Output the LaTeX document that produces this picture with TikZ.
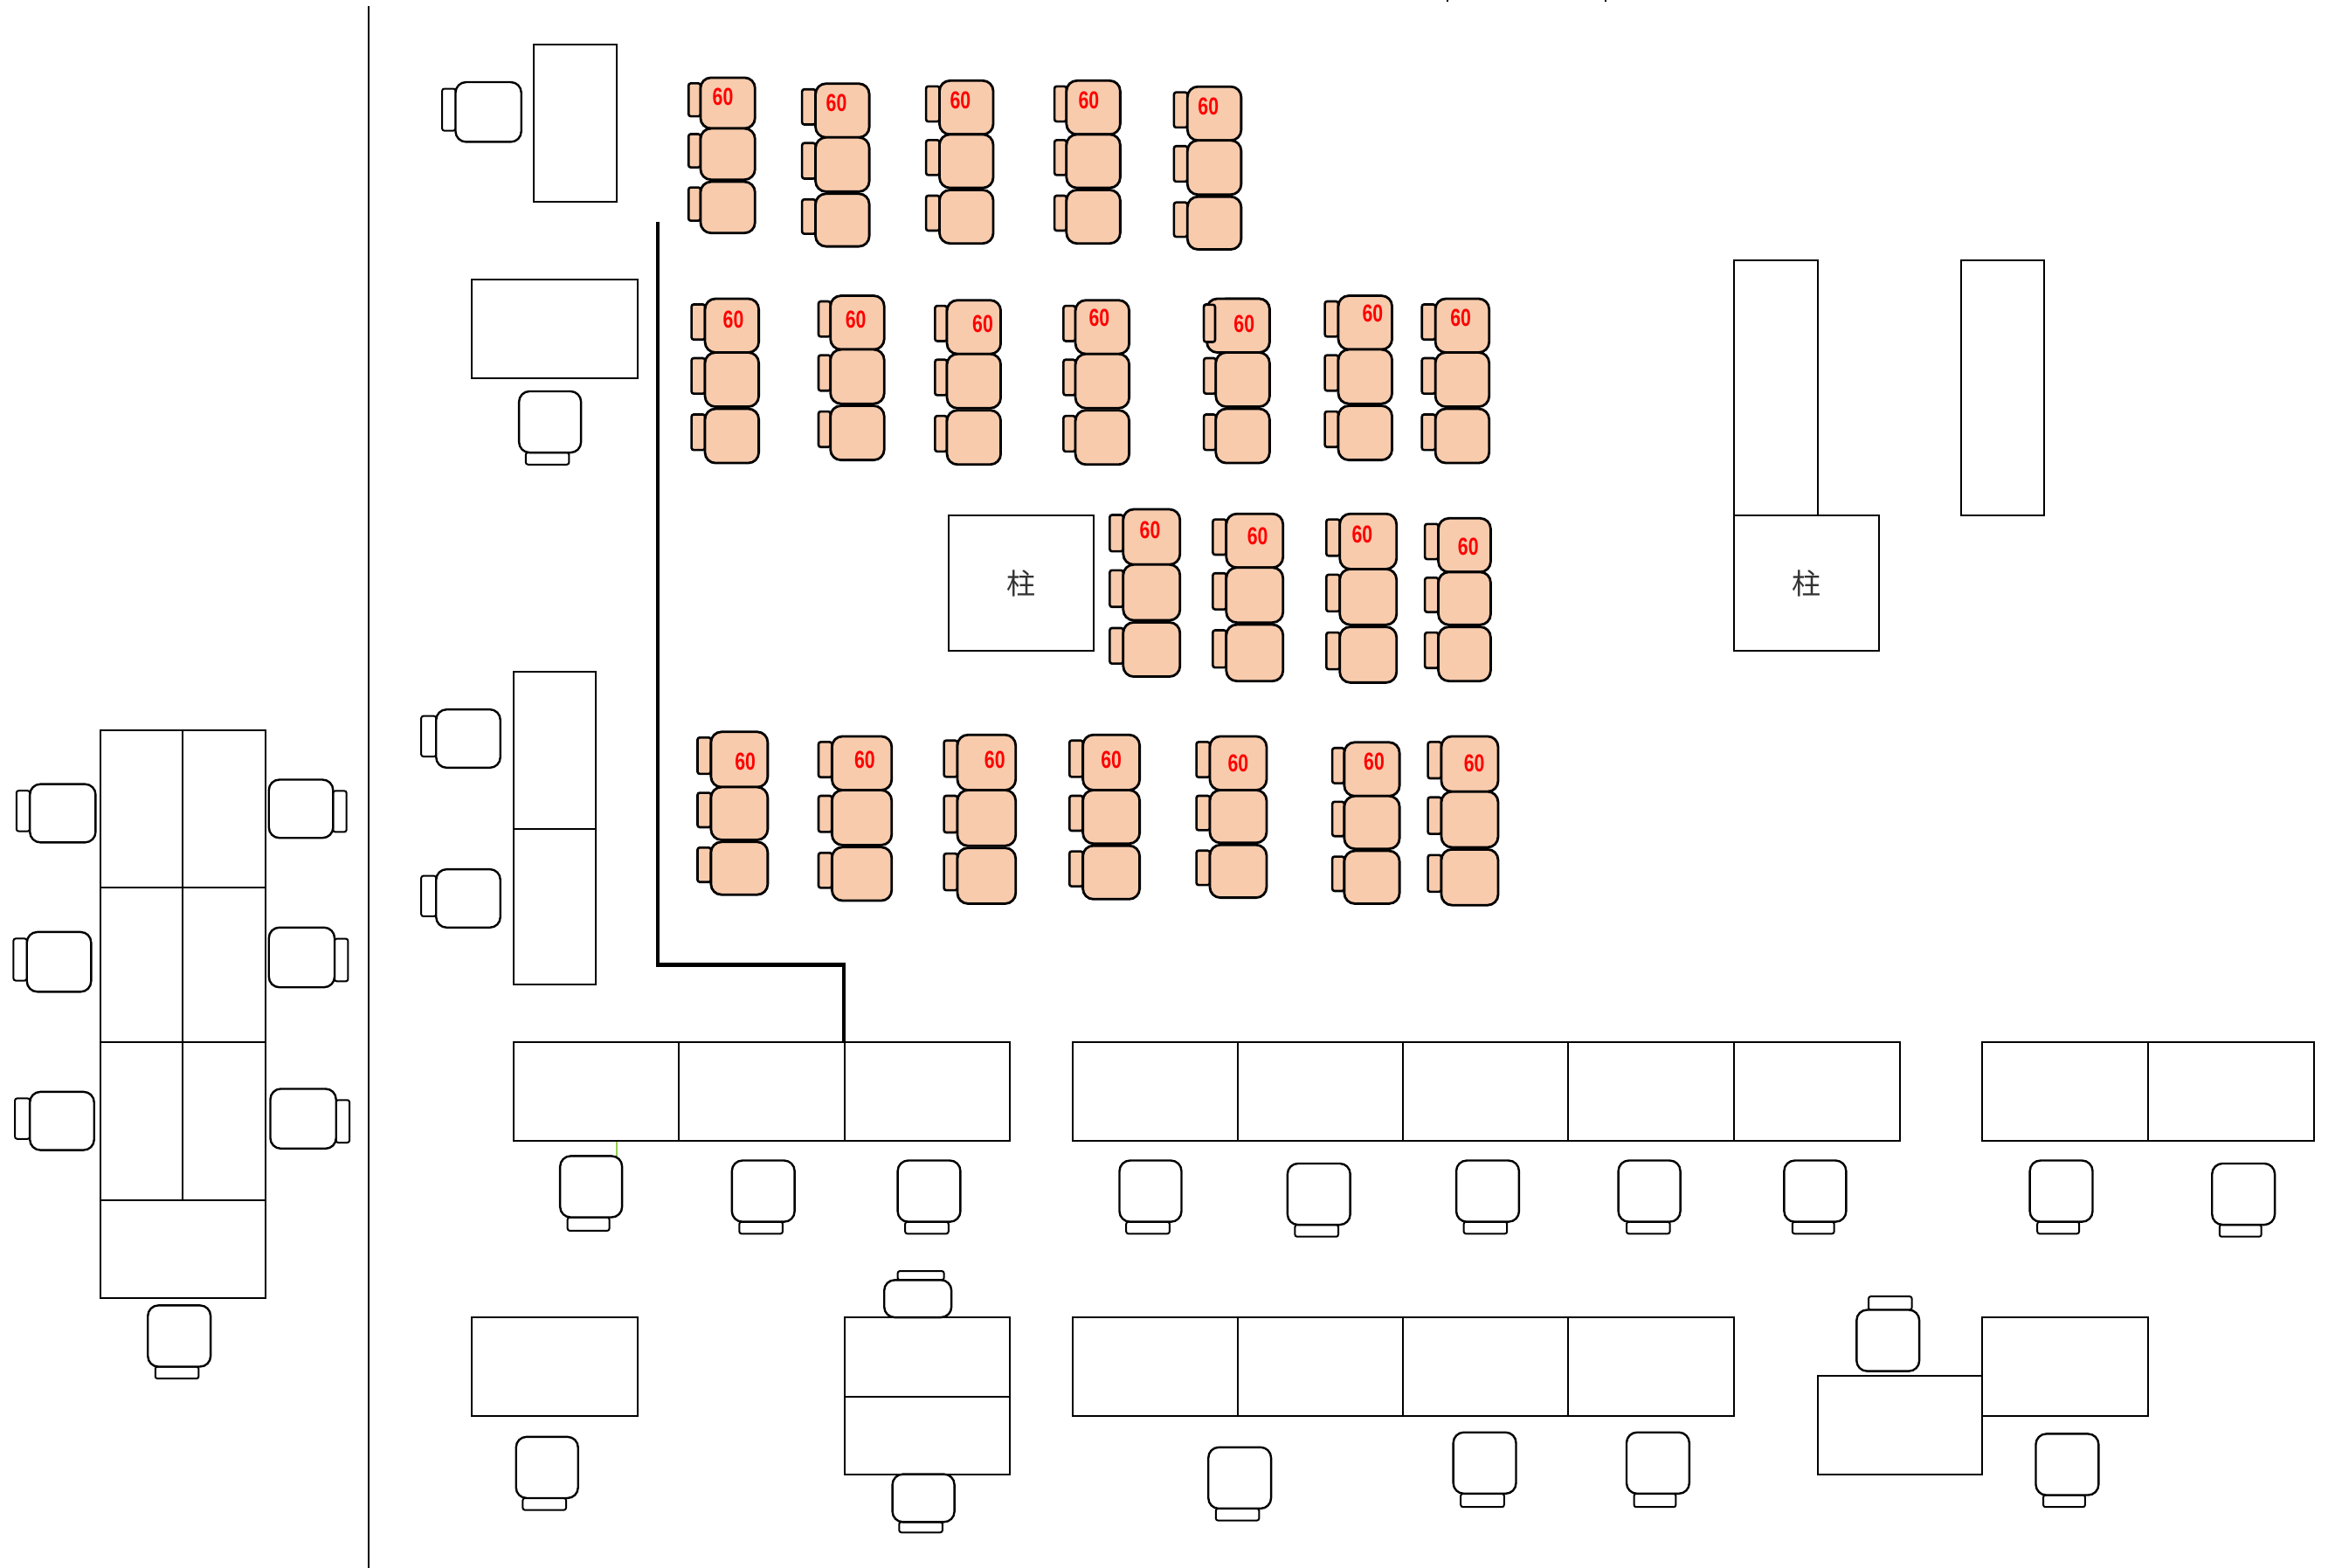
\documentclass[tikz,border=0pt]{standalone}
\usepackage{fontspec}
\setmainfont{Liberation Sans}
\newfontfamily\cjkpillar{Noto Sans CJK JP}
\definecolor{seatpink}{HTML}{F8CBAD}
\definecolor{cablegreen}{HTML}{92D050}
\definecolor{pillartext}{HTML}{333333}
\tikzset{
  wall/.style={draw=black,line width=2pt},
  thickwall/.style={draw=black,line width=4.2pt},
  desk/.style={draw=black,line width=2pt,fill=white},
  seatbody/.style={draw=black,line width=2.4pt,rounded corners=12pt,fill=white},
  seatback/.style={draw=black,line width=2pt,rounded corners=2.5pt,fill=white},
  pinkbody/.style={seatbody,line width=2.8pt,fill=seatpink},
  pinkback/.style={seatback,line width=2.6pt,fill=seatpink},
  pricetag/.style={text=red,font=\bfseries\fontsize{28}{28}\selectfont,xscale=.76,inner sep=0pt},
  pillarbox/.style={desk,inner sep=0pt,text=pillartext,font=\cjkpillar\fontsize{33}{33}\selectfont,
    minimum width=165.9pt,minimum height=155.6pt}
}
% one pink seat: bx, x0, x1, y0, y1
\newcommand\oneseat[5]{%
  \pgfmathsetmacro\bya{#4+3.8}\pgfmathsetmacro\byb{#4+0.76*(#5-#4)}%
  \path[pinkback] (#1,\bya) rectangle (#2,\byb);
  \path[pinkbody] (#2,#4) rectangle (#3,#5);
}
% column of three: bx,x0,x1,y0,y1,y2,y3,labelx,labely
\newcommand\pinkcol[9]{%
  \pgfmathsetmacro\ymida{#6-0.7}\pgfmathsetmacro\ymidb{#6+0.7}%
  \edef\yma{\ymida}\edef\ymb{\ymidb}%
  \oneseat{#1}{#2}{#3}{#4}{#5}%
  \oneseat{#1}{#2}{#3}{#5}{\yma}%
  \oneseat{#1}{#2}{#3}{\ymb}{#7}%
  \node[pricetag] at (#8,#9) {60};
}
% plain chairs
\newcommand\chairL[5]{% back x, x0, x1, y0, y1
  \pgfmathsetmacro\bya{#4+4.4}\pgfmathsetmacro\byb{#5-7.5}%
  \path[seatback] (#1,\bya) rectangle (#2,\byb);
  \path[seatbody] (#2,#4) rectangle (#3,#5);
}
\newcommand\chairR[5]{% x0, x1, back x, y0, y1
  \pgfmathsetmacro\bya{#4+7.5}\pgfmathsetmacro\byb{#5-4}%
  \path[seatback] (#2,\bya) rectangle (#3,\byb);
  \path[seatbody] (#1,#4) rectangle (#2,#5);
}
\newcommand\chairD[7]{% x0,x1,y0,y1,bx0,bx1,by1
  \path[seatback] (#5,#4) rectangle (#6,#7);
  \path[seatbody] (#1,#3) rectangle (#2,#4);
}
\newcommand\chairU[7]{% x0,x1,y0,y1,bx0,bx1,by0
  \path[seatback] (#5,#7) rectangle (#6,#3);
  \path[seatbody] (#1,#3) rectangle (#2,#4);
}
\newcommand\deskrow[3]{% y0,y1,list of x
  \foreach \xa/\xb in {#3} {\path[desk] (\xa,#1) rectangle (\xb,#2);}
}
\begin{document}
\begin{tikzpicture}[x=1.7098pt,y=-1.7098pt]
\useasboundingbox (0,0) rectangle (1568,1049.8);
% walls
\draw[wall] (247,4) -- (247,1050);
\coordinate (ca) at (440.3,148.5); \coordinate (cb) at (440.3,646);
\coordinate (cc) at (565,646); \coordinate (cd) at (565,698);
\draw[thickwall] (ca) -- (cb) -- (cc) -- (cd);
\coordinate (ga) at (413,764); \coordinate (gb) at (413,776);
\draw[draw=cablegreen,line width=2pt] (ga) -- (gb);
\coordinate (ta) at (969,0); \coordinate (tb) at (969,1);
\coordinate (tc) at (1075,0); \coordinate (td) at (1075,1);
\draw[line width=2pt] (ta) -- (tb) (tc) -- (td);
% desks
\path[desk] (357.5,30) rectangle (413,135);
\path[desk] (316,187) rectangle (427,253);
\path[desk] (344,450) rectangle (399,555);
\path[desk] (344,555) rectangle (399,659);
\path[desk] (1161,174) rectangle (1217,345);
\path[desk] (1313,174) rectangle (1368.5,345);
\node[pillarbox] (pillarA) at (683.5,390.5) {柱};
\node[pillarbox] (pillarB) at (1209.5,390.5) {柱};
% left block
\deskrow{489}{594}{67/122.5,122.5/178}
\deskrow{594}{698}{67/122.5,122.5/178}
\deskrow{698}{803.5}{67/122.5,122.5/178}
\deskrow{803.5}{869}{67/178}
% row 1
\deskrow{698}{764}{344/454.5,454.5/565.5,565.5/676,718/829,829/939.5,939.5/1050,1050/1161,1161/1272,1327/1438,1438/1549}
% row 2
\deskrow{882}{948}{316/427,718/829,829/939.5,939.5/1050,1050/1161,1327/1438}
\deskrow{882}{935}{565.5/676}
\deskrow{935}{987}{565.5/676}
\deskrow{921}{987}{1217/1327}
% plain chairs
\chairL{296}{305}{349}{55}{95}
\chairL{282}{292}{335}{475}{514}
\chairL{282}{292}{335}{582}{621}
\chairL{11}{20}{64}{525}{564}
\chairL{9}{18}{61}{624}{664}
\chairL{10}{20}{63}{731}{770}
\chairR{180}{223}{232}{522}{561}
\chairR{180}{224}{233}{621}{661}
\chairR{181}{225}{234}{729}{769}
\chairD{347.5}{389}{262}{303}{352}{381}{311}
\chairD{375}{416.5}{774}{815}{380}{408}{824}
\chairD{490}{532}{777}{818}{495}{524}{826}
\chairD{601}{643}{777}{818}{606}{635}{826}
\chairD{749.5}{791}{777}{818}{754}{783}{826}
\chairD{862}{904}{779}{820}{867}{896}{828}
\chairD{975}{1017}{777}{818}{980}{1009}{826}
\chairD{1083.5}{1125}{777}{818}{1089}{1118}{826}
\chairD{1194.5}{1236}{777}{818}{1200}{1228}{826}
\chairD{1359}{1401}{777}{818}{1364}{1392}{826}
\chairD{1481}{1523}{779}{820}{1486}{1514}{828}
\chairD{99}{141}{874}{915}{104}{133}{923}
\chairD{345.5}{387}{962}{1003}{350}{379}{1011}
\chairD{597.5}{639}{987}{1019}{602}{631}{1026}
\chairD{809}{851}{969}{1010}{814}{843}{1018}
\chairD{973}{1015}{959}{1000}{978}{1007}{1009}
\chairD{1089}{1131}{959}{1000}{1094}{1122}{1009}
\chairD{1363}{1405}{960}{1001}{1368}{1396}{1009}
\chairU{592}{637}{857}{882}{601}{632}{851}
\chairU{1243}{1285}{877}{918}{1251}{1280}{868}
% pink row 1
\pinkcol{461}{469}{505.5}{52}{86}{121}{156}{484}{65}
\pinkcol{537}{546}{582}{56}{92}{129}{165}{560}{69}
\pinkcol{620}{629}{665}{54}{90}{126.5}{163}{643}{67}
\pinkcol{706}{714}{750}{54}{90}{126.5}{163}{729}{67}
\pinkcol{786}{795}{831}{58}{94}{131}{167}{809}{71}
% pink row 2
\pinkcol{463}{472}{508}{200}{236}{273}{310}{491}{214}
\pinkcol{548}{556}{592}{198}{234}{271}{308}{573}{214}
\pinkcol{626}{634}{670}{201}{237}{274}{311}{658}{217}
\pinkcol{712}{720}{756}{201}{237}{274}{311}{736}{213}
\pinkcol{806}{814}{850}{200}{236}{273}{310}{833}{217}
% the top seat of this column is wider, its back lies on top of it
\path[pinkbody] (808,200) rectangle (850,236);
\path[pinkback] (806,204) rectangle (813.5,229);
\node[pricetag] at (833,217) {60};
\pinkcol{887}{896}{932}{198}{234}{271}{308}{919}{210}
\pinkcol{952}{961}{997}{200}{236}{273}{310}{978}{213}
% pink row 3
\pinkcol{743}{752}{790}{341}{378}{416}{453}{770}{355}
\pinkcol{812}{821}{859}{344}{380}{417.5}{456}{842}{359}
\pinkcol{888}{897}{935}{344}{381}{419}{457}{912}{358}
\pinkcol{954}{963}{998}{347}{383}{419}{456}{983}{366}
% pink row 4
\pinkcol{467}{476}{514}{490}{527}{563}{599}{499}{510}
\pinkcol{548}{557}{597}{493}{529}{566.5}{603}{579}{509}
\pinkcol{632}{641}{680}{492}{529}{567}{605}{666}{509}
\pinkcol{716}{725}{763}{492}{529}{565.5}{602}{744}{509}
\pinkcol{801}{810}{848}{493}{529}{565}{601}{829}{511}
\pinkcol{892}{900}{937}{497}{533}{569}{605}{920}{510}
\pinkcol{956}{965}{1003}{493}{530}{568}{606}{987}{511}
\end{tikzpicture}
\end{document}
